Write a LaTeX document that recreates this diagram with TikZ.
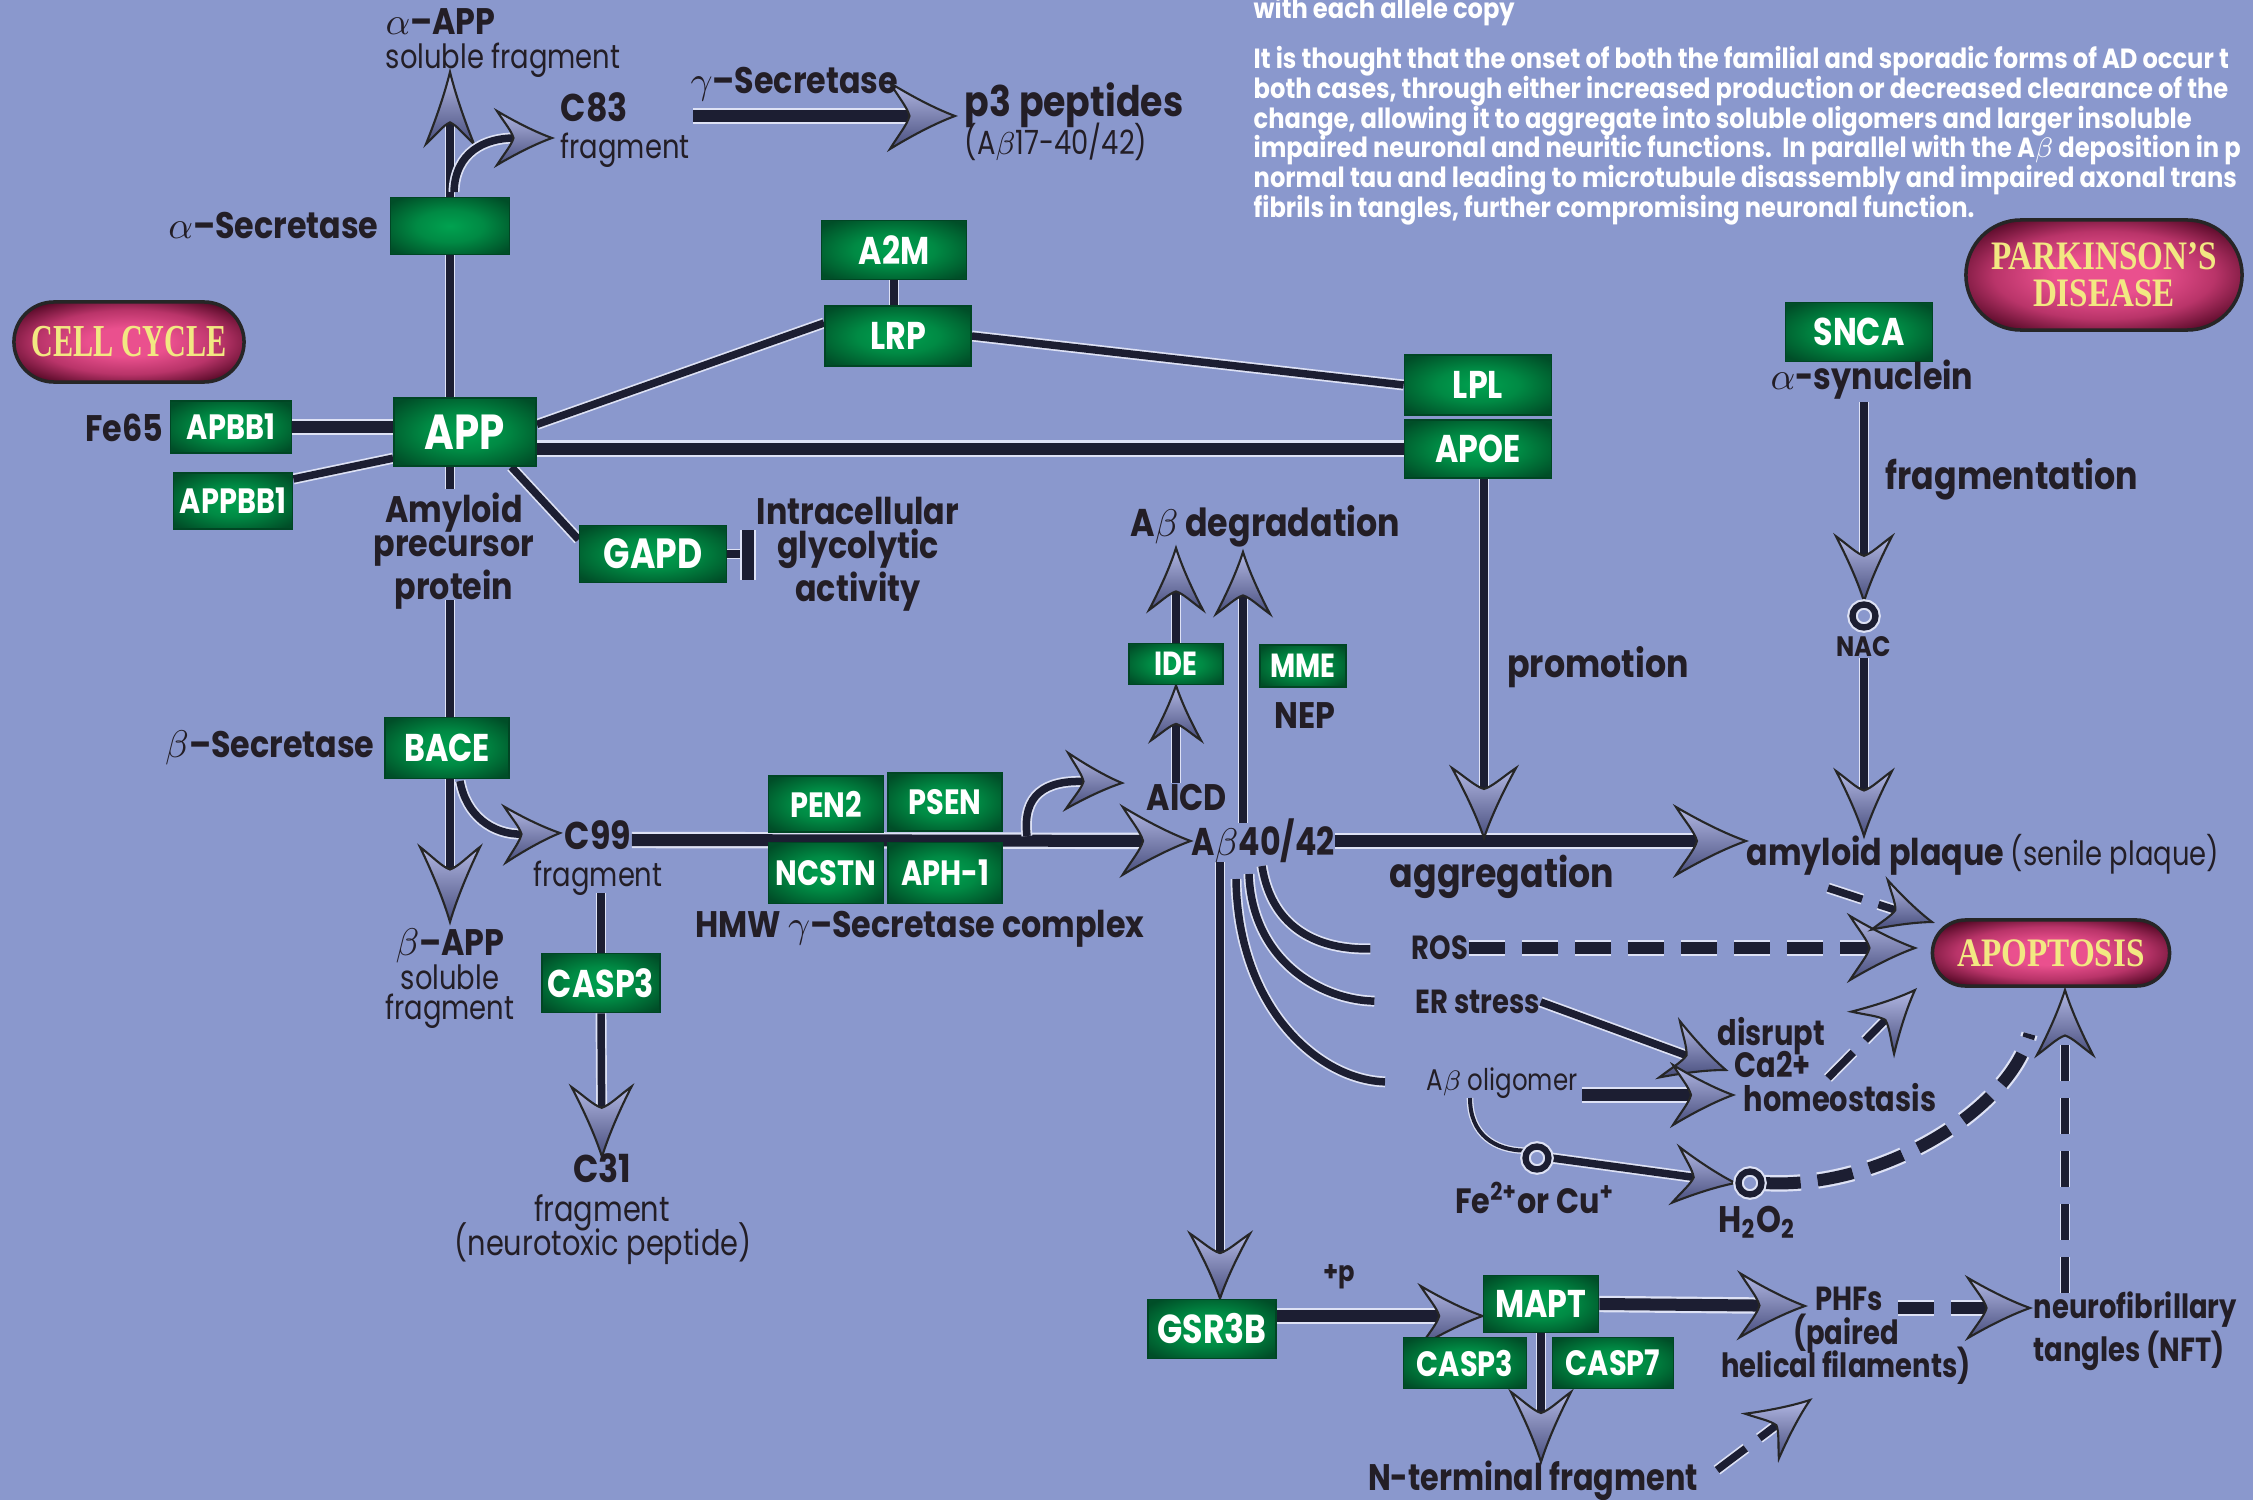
\documentclass[tikz,border=0pt]{standalone}
\usepackage{fontspec}
\setmainfont{Poppins}
\newfontfamily\nar[FakeStretch=0.82]{Poppins}
\newfontfamily\lbf[FakeStretch=0.86]{Poppins}
\newfontfamily\parf[FakeStretch=0.87]{Poppins}
\newfontfamily\serf[FakeStretch=0.82]{Liberation Serif}
\newfontfamily\serfc[FakeStretch=0.66]{Liberation Serif}
\usetikzlibrary{shapes.misc,decorations.markings}
\pgfdeclarelayer{bg}
\pgfsetlayers{bg,main}
\definecolor{bgblue}{RGB}{138,152,205}
\definecolor{gin}{RGB}{0,162,80}
\definecolor{gmid}{RGB}{0,138,68}
\definecolor{gout}{RGB}{0,105,52}
\definecolor{gdark}{RGB}{0,78,40}
\definecolor{gedge}{RGB}{0,70,36}
\definecolor{tubed}{RGB}{28,30,50}
\definecolor{tubel}{RGB}{222,226,245}
\definecolor{headl}{RGB}{178,184,228}
\definecolor{headd}{RGB}{72,78,125}
\definecolor{pin}{RGB}{234,80,142}
\definecolor{pmid}{RGB}{185,52,105}
\definecolor{pout}{RGB}{88,10,40}
\definecolor{ytext}{RGB}{242,232,130}
\definecolor{ink}{RGB}{35,30,38}
\pgfdeclareradialshading{gshade}{\pgfpoint{0bp}{0bp}}{color(0bp)=(gin); color(14bp)=(gmid); color(24bp)=(gout); color(32bp)=(gdark); color(50bp)=(gdark)}
\pgfdeclareradialshading{pshade}{\pgfpoint{0bp}{0bp}}{color(0bp)=(pin); color(9bp)=(pin); color(20bp)=(pmid); color(30bp)=(pout); color(50bp)=(pout)}
\newcommand\fsz[2]{\fontsize{#1}{#2}\selectfont}
\newcommand\ahead[2]{%
  \path[draw=black!85, line width=0.6pt, solid, shorten >=0pt, shorten <=0pt, top color=headl, bottom color=headd]
  (0,0) .. controls ({-0.3*#1},{0.22*#2}) and ({-0.65*#1},{0.58*#2}) .. ({-#1},{#2})
  .. controls ({-0.86*#1},{0.55*#2}) and ({-0.74*#1},{0.28*#2}) .. ({-0.7*#1},0)
  .. controls ({-0.74*#1},{-0.28*#2}) and ({-0.86*#1},{-0.55*#2}) .. ({-#1},{-#2})
  .. controls ({-0.65*#1},{-0.58*#2}) and ({-0.3*#1},{-0.22*#2}) .. (0,0) -- cycle;}
\tikzset{
  tubeA/.style={draw=tubel, line width=0.022cm, double=tubed, double distance=0.12cm},
  tubeB/.style={draw=tubel, line width=0.017cm, double=tubed, double distance=0.075cm},
  tubeC/.style={draw=tubel, line width=0.013cm, double=tubed, double distance=0.04cm},
  dsh/.style={dash pattern=on 0.36cm off 0.17cm},
  arr/.style 2 args={shorten >=#1*0.0068cm, postaction={decorate, decoration={markings, mark=at position 1 with {\ahead{#1}{#2}}}}},
  gbox/.style={rectangle, draw=gedge, line width=0.5pt, shade, shading=gshade, text=white, inner sep=0pt, font=\nar\bfseries\fsz{11}{11}},
  pill/.style={rounded rectangle, draw=black!85, line width=1pt, shade, shading=pshade, text=ytext, inner sep=0pt, align=center, font=\serf\bfseries\fsz{11.5}{10.6}},
  lab/.style={text=ink, inner sep=0pt, align=center, font=\lbf\bfseries\fsz{10.5}{10}},
  labn/.style={text=ink, inner sep=0pt, align=center, font=\nar\fsz{9.5}{10}},
  tight/.style={text height=0.72em, text depth=0.16em},
  ring/.style={circle, draw=tubed, line width=1.8pt, minimum size=0.23cm, inner sep=0pt, preaction={draw=tubel, line width=3pt}},
  ptext/.style={anchor=west, text=white, inner sep=0pt, font=\parf\bfseries\fsz{7.9}{8}}
}
\begin{document}
\begin{tikzpicture}[x=0.01cm,y=-0.01cm]
\useasboundingbox (0,0) rectangle (2253,1500);
\begin{pgfonlayer}{bg}
\fill[bgblue] (0,0) rectangle (2253,1500);
\end{pgfonlayer}

% paragraph
\node[ptext] (t0) at (1253,11) {with each allele copy};
\node[ptext] (t1) at (1253,61) {It is thought that the onset of both the familial and sporadic forms of AD occur t};
\node[ptext] (t2) at (1253,91) {both cases, through either increased production or decreased clearance of the};
\node[ptext] (t3) at (1253,121) {change, allowing it to aggregate into soluble oligomers and larger insoluble};
\node[ptext] (t4) at (1253,150) {impaired neuronal and neuritic functions.\ \ In parallel with the A$\beta$ deposition in p};
\node[ptext] (t5) at (1253,180) {normal tau and leading to microtubule disassembly and impaired axonal trans};
\node[ptext] (t6) at (1253,210) {fibrils in tangles, further compromising neuronal function.};

% green boxes
\node[gbox, minimum width=1.19cm, minimum height=0.57cm] (asec) at (450,226) {};
\node[gbox, minimum width=1.45cm, minimum height=0.59cm] (a2m) at (894,250) {A2M};
\node[gbox, minimum width=1.46cm, minimum height=0.60cm] (lrp) at (898,336) {LRP};
\node[gbox, minimum width=1.42cm, minimum height=0.68cm, font=\nar\bfseries\fsz{14}{14}] (app) at (465,432) {APP};
\node[gbox, minimum width=1.21cm, minimum height=0.52cm, font=\nar\bfseries\fsz{10}{10}] (apbb1) at (231,427) {APBB1};
\node[gbox, minimum width=1.19cm, minimum height=0.56cm, font=\nar\bfseries\fsz{10}{10}] (appbb1) at (233,501) {APPBB1};
\node[gbox, minimum width=1.47cm, minimum height=0.57cm, font=\nar\bfseries\fsz{12}{12}] (gapd) at (653,554) {GAPD};
\node[gbox, minimum width=1.47cm, minimum height=0.60cm] (lpl) at (1478,385) {LPL};
\node[gbox, minimum width=1.47cm, minimum height=0.58cm] (apoe) at (1478,449) {APOE};
\node[gbox, minimum width=1.47cm, minimum height=0.59cm] (snca) at (1859,332) {SNCA};
\node[gbox, minimum width=0.94cm, minimum height=0.41cm, font=\nar\bfseries\fsz{9.5}{9.5}] (ide) at (1176,664) {IDE};
\node[gbox, minimum width=0.86cm, minimum height=0.42cm, font=\nar\bfseries\fsz{9.5}{9.5}] (mme) at (1303,666) {MME};
\node[gbox, minimum width=1.24cm, minimum height=0.61cm] (bace) at (447,748) {BACE};
\node[gbox, minimum width=1.15cm, minimum height=0.56cm, font=\nar\bfseries\fsz{10}{10}] (pen2) at (826,804) {PEN2};
\node[gbox, minimum width=1.14cm, minimum height=0.58cm, font=\nar\bfseries\fsz{10}{10}] (psen) at (945,802) {PSEN};
\node[gbox, minimum width=1.15cm, minimum height=0.61cm, font=\nar\bfseries\fsz{10}{10}] (ncstn) at (826,873) {NCSTN};
\node[gbox, minimum width=1.14cm, minimum height=0.61cm, font=\nar\bfseries\fsz{10}{10}] (aph1) at (945,873) {APH-1};
\node[gbox, minimum width=1.18cm, minimum height=0.59cm] (casp3a) at (601,983) {CASP3};
\node[gbox, minimum width=1.28cm, minimum height=0.59cm, font=\nar\bfseries\fsz{11.5}{11.5}] (gsr3b) at (1212,1329) {GSR3B};
\node[gbox, minimum width=1.15cm, minimum height=0.57cm] (mapt) at (1541,1304) {MAPT};
\node[gbox, minimum width=1.23cm, minimum height=0.51cm, font=\nar\bfseries\fsz{10}{10}] (casp3b) at (1465,1363) {CASP3};
\node[gbox, minimum width=1.21cm, minimum height=0.51cm, font=\nar\bfseries\fsz{10}{10}] (casp7) at (1613,1363) {CASP7};

% pills
\node[pill, minimum width=2.30cm, minimum height=0.80cm, font=\serfc\bfseries\fsz{13}{13}] (cellcycle) at (129,342) {CELL CYCLE};
\node[pill, minimum width=2.76cm, minimum height=1.10cm] (parkinson) at (2104,275) {PARKINSON’S\\DISEASE};
\node[pill, minimum width=2.37cm, minimum height=0.66cm] (apoptosis) at (2051,953) {APOPTOSIS};

% labels
\node[lab, tight, anchor=west] (aapp) at (385,25) {{\mdseries$\alpha$}–APP};
\node[labn, tight, anchor=west] (asol) at (385,59) {soluble fragment};
\node[lab, tight, anchor=west, font=\lbf\bfseries\fsz{11}{11}] (c83) at (560,112) {C83};
\node[labn, tight, anchor=west] (c83f) at (560,149) {fragment};
\node[lab, anchor=west] (gsec) at (690,84) {{\mdseries$\gamma$}–Secretase};
\node[lab, tight, anchor=west, font=\lbf\bfseries\fsz{12}{12}] (p3) at (964,107) {p3 peptides};
\node[labn, tight, anchor=west] (p3b) at (964,145) {(A$\beta$17-40/42)};
\node[lab, anchor=east] (aseclab) at (379,226) {{\mdseries$\alpha$}–Secretase};
\node[lab, anchor=east] (fe65) at (164,428) {Fe65};
\node[lab, font=\lbf\bfseries\fsz{10.5}{9.8}] (amyl) at (454,551) {Amyloid\\precursor\\protein};
\node[lab, font=\lbf\bfseries\fsz{10.5}{9.6}] (intra) at (858,554) {Intracellular\\glycolytic\\activity};
\node[lab, font=\lbf\bfseries\fsz{11}{11}] (abdeg) at (1265,526) {A$\beta$ degradation};
\node[lab] (nep) at (1305,716) {NEP};
\node[lab] (aicd) at (1187,797) {AICD};
\node[lab, font=\nar\bfseries\fsz{11}{11}] (ab4042) at (1263,841) {A$\beta$40/42};
\node[lab, font=\lbf\bfseries\fsz{11}{11}] (promo) at (1598,667) {promotion};
\node[lab, font=\lbf\bfseries\fsz{11}{11}] (fragm) at (2012,479) {fragmentation};
\node[lab, font=\lbf\bfseries\fsz{10.5}{10}] (asyn) at (1872,380) {{\mdseries$\alpha$}-synuclein};
\node[lab, font=\lbf\bfseries\fsz{8}{8}] (nac) at (1864,647) {NAC};
\node[lab, anchor=east] (bseclab) at (375,748) {{\mdseries$\beta$}–Secretase};
\node[lab, tight, font=\lbf\bfseries\fsz{11}{11}] (c99) at (598,840) {C99};
\node[labn, tight] (c99f) at (598,877) {fragment};
\node[lab, tight] (bapp) at (450,946) {{\mdseries$\beta$}–APP};
\node[labn, tight] (bsol) at (450,980) {soluble};
\node[labn, tight] (bfrag) at (450,1010) {fragment};
\node[lab] (hmw) at (920,929) {HMW {\mdseries$\gamma$}–Secretase complex};
\node[lab, tight, font=\lbf\bfseries\fsz{11}{11}] (c31) at (602,1173) {C31};
\node[labn, tight, font=\nar\fsz{10}{10}] (c31f) at (602,1212) {fragment};
\node[labn, tight, font=\nar\fsz{10}{10}] (c31n) at (603,1246) {(neurotoxic peptide)};
\node[lab, font=\lbf\bfseries\fsz{11.5}{11}] (aggr) at (1502,877) {aggregation};
\node[lab, anchor=west, font=\lbf\bfseries\fsz{10.5}{10}] (plaque) at (1746,855) {amyloid plaque {\nar\mdseries\fsz{9.5}{10}(senile plaque)}};
\node[lab, font=\nar\bfseries\fsz{9.5}{9.5}] (ros) at (1440,948) {ROS};
\node[lab, font=\nar\bfseries\fsz{9.5}{9.5}] (er) at (1478,1002) {ER stress};
\node[labn, font=\nar\fsz{8.5}{8.5}] (olig) at (1502,1083) {A$\beta$ oligomer};
\node[lab, tight, anchor=west, font=\nar\bfseries\fsz{10}{10}] (disr) at (1717,1036) {disrupt};
\node[lab, tight, anchor=west, font=\nar\bfseries\fsz{10}{10}] (ca) at (1734,1068) {Ca2+};
\node[lab, tight, anchor=west, font=\nar\bfseries\fsz{10}{10}] (homeo) at (1743,1102) {homeostasis};
\node[lab, font=\lbf\bfseries\fsz{10}{10}] (fecu) at (1535,1198) {Fe\textsuperscript{2+}or Cu\textsuperscript{+}};
\node[lab] (h2o2) at (1757,1222) {H\textsubscript{2}O\textsubscript{2}};
\node[lab, font=\lbf\bfseries\fsz{8}{8}] (plusp) at (1339,1277) {+p};
\node[lab, tight, font=\nar\bfseries\fsz{9.5}{9.5}] (phf1) at (1849,1301) {PHFs};
\node[lab, tight, font=\nar\bfseries\fsz{9.5}{9.5}] (phf2) at (1846,1335) {(paired};
\node[lab, tight, font=\nar\bfseries\fsz{9.5}{9.5}] (phf3) at (1846,1368) {helical filaments)};
\node[lab, anchor=west, align=left, font=\nar\bfseries\fsz{9.5}{9.4}] (nft) at (2033,1331) {neurofibrillary\\tangles (NFT)};
\node[lab, font=\nar\bfseries\fsz{10.5}{10.5}] (nterm) at (1533,1481) {N-terminal fragment};

% rings
\node[ring] (nacring) at (1864,616) {};
\node[ring] (fering) at (1537,1158) {};
\node[ring] (h2ring) at (1750,1183) {};

% coordinates
\coordinate (aappTip) at (450,72);
\coordinate (c83s) at (454,192);
\coordinate (c83tip) at (552,138);
\coordinate (gs1) at (693,116);
\coordinate (gs2) at (955,116);
\coordinate (gbar) at (748,554);
\coordinate (gbar1) at (748,530);
\coordinate (gbar2) at (748,580);
\coordinate (am1) at (450,489);
\coordinate (am2) at (450,600);
\coordinate (bappTip) at (450,922);
\coordinate (bcs) at (460,781);
\coordinate (c99tip) at (560,833);
\coordinate (aics) at (1027,836);
\coordinate (aictip) at (1122,783);
\coordinate (degtip1) at (1176,548);
\coordinate (dg2s) at (1243,823);
\coordinate (degtip2) at (1243,552);
\coordinate (promtip) at (1484,838);
\coordinate (sn1) at (1864,402);
\coordinate (plqtip) at (1864,836);
\coordinate (gsk1) at (1220,862);
\coordinate (cr1) at (1262,866);
\coordinate (cr2) at (1249,874);
\coordinate (cr3) at (1236,879);
\coordinate (apotip1) at (1915,948);
\coordinate (pl2) at (1828,888);
\coordinate (apotip2) at (1932,922);
\coordinate (catip) at (1726,1070);
\coordinate (oe) at (1582,1095);
\coordinate (homtip) at (1733,1095);
\coordinate (caS) at (1828,1078);
\coordinate (apotip3) at (1915,990);
\coordinate (ols) at (1470,1098);
\coordinate (apotip4) at (2040,993);
\coordinate (nftS) at (2065,1293);
\coordinate (apotip5) at (2065,990);
\coordinate (gm) at (1276,1316);
\coordinate (phftip) at (1805,1306);
\coordinate (phfS) at (1898,1308);
\coordinate (nfttip) at (2030,1308);
\coordinate (ntip) at (1541,1462);
\coordinate (ntS) at (1717,1470);
\coordinate (phftip2) at (1810,1400);

\begin{pgfonlayer}{bg}
\draw[tubeB] (asec.south) -- (app.north -| asec.south);
\draw[tubeB, arr={72}{24}] (asec.north) -- (aappTip);
\draw[tubeB, arr={55}{27}] (c83s) .. controls (455,152) and (485,138) .. (c83tip);
\draw[tubeA, arr={65}{33}] (gs1) -- (gs2);
\draw[tubeA] (apbb1.east) -- (apbb1.east -| app.west);
\draw[tubeB] (appbb1.20) -- (app.200);
\draw[tubeB] (app.6) -- (lrp.170);
\draw[tubeB] (a2m.south) -- (a2m.south |- lrp.north);
\draw[tubeB] (lrp.east) -- (lpl.west);
\draw[tubeA] (app.-13) -- (apoe.west |- app.-13);
\draw[tubeB] (app.-37) -- (gapd.169);
\draw[tubeB] (gapd.east) -- (gbar);
\draw[tubeA] (gbar1) -- (gbar2);
\draw[tubeB] (app.south -| asec.south) -- (am1);
\draw[tubeB] (am2) -- (bace.north -| asec.south);
\draw[tubeB, arr={75}{30}] (bace.south -| asec.south) -- (bappTip);
\draw[tubeB, arr={55}{28}] (bcs) .. controls (466,815) and (492,835) .. (c99tip);
\draw[tubeB] (casp3a.north |- c99f.south) -- (casp3a.north);
\draw[tubeB, arr={70}{30}] (casp3a.south) -- (c31.north);
\draw[tubeA, arr={68}{34}] (c99.east) -- (ab4042.west);
\draw[tubeB, arr={55}{28}] (aics) .. controls (1022,795) and (1045,780) .. (aictip);
\draw[tubeB, arr={55}{25}] (aicd.north -| ide.south) -- (ide.south);
\draw[tubeB, arr={62}{27}] (ide.north) -- (degtip1);
\draw[tubeB, arr={62}{27}] (dg2s) -- (degtip2);
\draw[tubeA, arr={70}{34}] (ab4042.east) -- (ab4042.east -| plaque.west);
\draw[tubeB, arr={70}{32}] (apoe.south -| promtip) -- (promtip);
\draw[tubeB, arr={65}{28}] (sn1) -- (nacring.north);
\draw[tubeB, arr={65}{28}] (nac.south) -- (plqtip);
\draw[tubeB, arr={65}{30}] (gsk1) -- (gsk1 |- gsr3b.north);
\draw[tubeB, arr={60}{30}] (cr1) .. controls (1272,930) and (1320,950) .. (ros.west);
\draw[tubeB, arr={60}{30}] (cr2) .. controls (1252,960) and (1320,1000) .. (er.west);
\draw[tubeB, arr={60}{30}] (cr3) .. controls (1238,1010) and (1320,1080) .. (olig.west);
\draw[tubeA, dsh, arr={65}{32}] (ros.east) -- (apotip1);
\draw[tubeB, dsh, arr={55}{26}] (pl2) -- (apotip2);
\draw[tubeB, arr={60}{30}] (er.east) -- (catip);
\draw[tubeA, arr={60}{30}] (oe) -- (homtip);
\draw[tubeB, dsh, arr={60}{30}] (caS) -- (apotip3);
\draw[tubeC] (ols) .. controls (1470,1135) and (1495,1150) .. (fering.150);
\draw[tubeB, arr={60}{28}] (fering.east) -- (h2ring.west);
\draw[tubeA, dsh, arr={62}{28}] (h2ring.east) .. controls (1880,1190) and (2010,1110) .. (apotip4);
\draw[tubeB, dsh, arr={65}{28}] (nftS) -- (apotip5);
\draw[tubeA, arr={62}{30}] (gm) -- (gm -| mapt.west);
\draw[tubeA, arr={65}{32}] (mapt.east) -- (phftip);
\draw[tubeA, dsh, arr={62}{30}] (phfS) -- (nfttip);
\draw[tubeB, arr={70}{30}] (mapt.south) -- (ntip);
\draw[tubeB, dsh, arr={60}{28}] (ntS) -- (phftip2);
\end{pgfonlayer}
\end{tikzpicture}
\end{document}
